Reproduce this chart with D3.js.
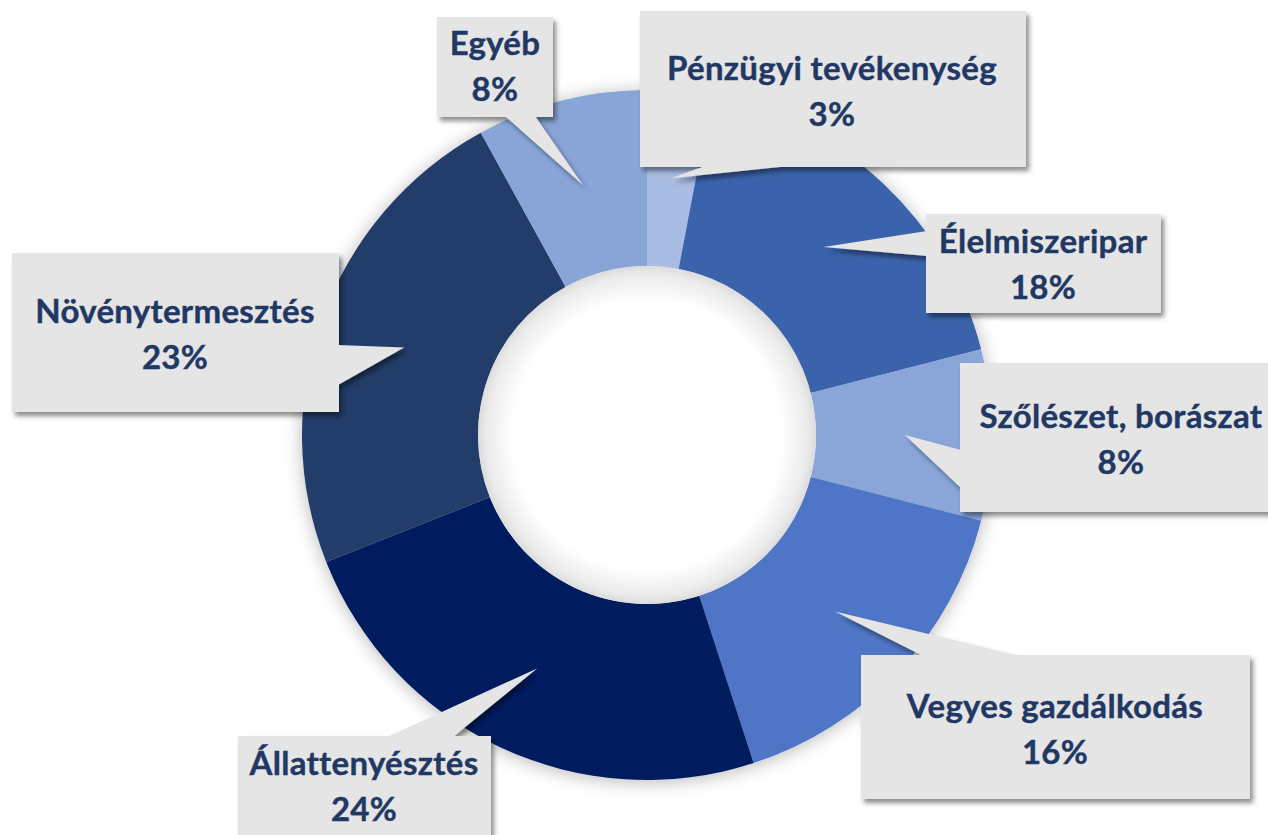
<!DOCTYPE html>
<html>
<head>
<meta charset="utf-8">
<script src="https://cdn.jsdelivr.net/npm/d3@7"></script>
<style>
  html, body { margin: 0; padding: 0; background: #ffffff; }
  svg { display: block; }
</style>
</head>
<body>
<svg id="chart" width="1268" height="835"></svg>
<script>
// ---- data ----
const categories = ["Pénzügyi tevékenység", "Élelmiszeripar", "Szőlészet, borászat", "Vegyes gazdálkodás", "Állattenyésztés", "Növénytermesztés", "Egyéb"];
const shares = [3, 18, 8, 16, 24, 23, 8];
const percentLabels = ["3%", "18%", "8%", "16%", "24%", "23%", "8%"];

// ---- styles / layout ----
const sliceColors = ["#A9BCE4", "#3A63AC", "#8AA6D9", "#4F76C6", "#011F5E", "#233C6B", "#89A5D8"];
const W = 1268, H = 835;
const cx = 647, cy = 435, rOuter = 345, rInner = 169, rTip = 258;
// callout boxes: x, y, w, h, text center x, first baseline, tail base on a side
const boxes = [
  {x: 640, y: 11,  w: 386, h: 156, tx: 832,  b1: 80,  side: "bottom", a: 705, b: 790},
  {x: 926, y: 214, w: 235, h: 99,  tx: 1043, b1: 253, side: "left",   a: 231, b: 256},
  {x: 960, y: 363, w: 326, h: 149, tx: 1121, b1: 428, side: "left",   a: 450, b: 488},
  {x: 861, y: 655, w: 389, h: 144, tx: 1055, b1: 718, side: "top",    a: 923, b: 1020},
  {x: 238, y: 736, w: 253, h: 140, tx: 364,  b1: 775, side: "top",    a: 387, b: 453},
  {x: 12,  y: 253, w: 327, h: 159, tx: 175,  b1: 323, side: "right",  a: 345, b: 385},
  {x: 437, y: 17,  w: 116, h: 100, tx: 495,  b1: 55,  side: "bottom", a: 505, b: 535}
];
const lineGap = 46;
const textColor = "#1F3864";
const boxFill = "#E5E5E5";

const svg = d3.select("#chart");
const defs = svg.append("defs");

const glow = defs.append("filter").attr("id", "glow")
  .attr("x", "-20%").attr("y", "-20%").attr("width", "140%").attr("height", "140%");
glow.append("feDropShadow").attr("dx", 0).attr("dy", 2).attr("stdDeviation", 9)
  .attr("flood-color", "#000").attr("flood-opacity", 0.28);

const shadow = defs.append("filter").attr("id", "shadow")
  .attr("x", "-20%").attr("y", "-20%").attr("width", "140%").attr("height", "140%");
shadow.append("feDropShadow").attr("dx", 3).attr("dy", 4).attr("stdDeviation", 2.5)
  .attr("flood-color", "#000").attr("flood-opacity", 0.45);

const holeGrad = defs.append("radialGradient").attr("id", "hole");
holeGrad.append("stop").attr("offset", "0%").attr("stop-color", "#ffffff");
holeGrad.append("stop").attr("offset", "80%").attr("stop-color", "#ffffff");
holeGrad.append("stop").attr("offset", "95%").attr("stop-color", "#ebebeb");
holeGrad.append("stop").attr("offset", "100%").attr("stop-color", "#dcdcdc");

const pie = d3.pie().sort(null).value(d => d)(shares);
const arc = d3.arc().innerRadius(rInner).outerRadius(rOuter);
const tipArc = d3.arc().innerRadius(rTip).outerRadius(rTip);

const g = svg.append("g").attr("transform", `translate(${cx},${cy})`);
const ring = g.append("g").attr("filter", "url(#glow)");
ring.selectAll("path").data(pie).join("path")
  .attr("d", arc)
  .attr("fill", (d, i) => sliceColors[i]);
g.append("circle").attr("r", rInner).attr("fill", "url(#hole)");

// callouts
const callouts = svg.append("g");
pie.forEach((d, i) => {
  const bx = boxes[i];
  const [tx, ty] = tipArc.centroid(d);
  const tip = [cx + tx, cy + ty];
  let p1, p2;
  if (bx.side === "bottom") { p1 = [bx.a, bx.y + bx.h - 1]; p2 = [bx.b, bx.y + bx.h - 1]; }
  else if (bx.side === "top") { p1 = [bx.a, bx.y + 1]; p2 = [bx.b, bx.y + 1]; }
  else if (bx.side === "left") { p1 = [bx.x + 1, bx.a]; p2 = [bx.x + 1, bx.b]; }
  else { p1 = [bx.x + bx.w - 1, bx.a]; p2 = [bx.x + bx.w - 1, bx.b]; }
  const cg = callouts.append("g").attr("filter", "url(#shadow)");
  cg.append("rect").attr("x", bx.x).attr("y", bx.y).attr("width", bx.w).attr("height", bx.h)
    .attr("fill", boxFill);
  cg.append("path").attr("d", d3.line()([p1, tip, p2]) + "Z").attr("fill", boxFill);
  const t = callouts.append("text")
    .attr("text-anchor", "middle")
    .attr("fill", textColor)
    .attr("font-family", "Lato, 'Open Sans', sans-serif")
    .attr("font-weight", 700)
    .attr("font-size", 33)
    .attr("letter-spacing", 0.3)
    .attr("stroke", textColor)
    .attr("stroke-width", 0.4);
  t.append("tspan").attr("x", bx.tx).attr("y", bx.b1).text(categories[i]);
  t.append("tspan").attr("x", bx.tx).attr("y", bx.b1 + lineGap).text(percentLabels[i]);
});
</script>
</body>
</html>
